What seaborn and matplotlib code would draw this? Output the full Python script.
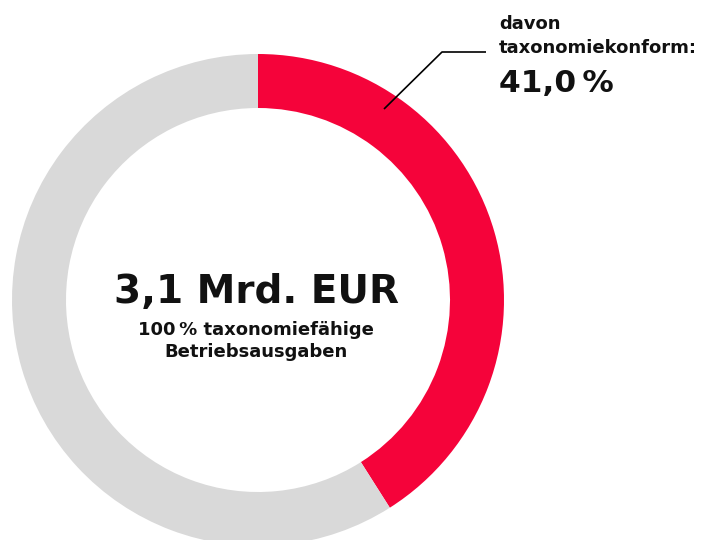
import matplotlib
matplotlib.use("Agg")
import matplotlib.pyplot as plt
import seaborn as sns

# Share of taxonomy-eligible operating expenses
segments = ["taxonomiekonform", "nicht taxonomiekonform"]
shares = [41.0, 59.0]
colors = ["#F5033A", "#D9D9D9"]

total_label = "3,1 Mrd. EUR"
sub_label = ["100\u2009% taxonomiefähige", "Betriebsausgaben"]
callout_head = ["davon", "taxonomiekonform:"]
callout_value = f"{shares[0]:.1f}".replace(".", ",") + "\u2009%"

sns.set_theme(style="white")
plt.rcParams["font.family"] = ["DejaVu Sans"]

W, H = 703, 540
fig = plt.figure(figsize=(W / 100, H / 100), dpi=100)
ax = fig.add_axes([0, 0, 1, 1])

cx, cy = 258, H - 300
r_out, ring = 246, 54
ax.pie(shares, colors=colors, radius=r_out, center=(cx, cy),
       startangle=90, counterclock=False,
       wedgeprops=dict(width=ring, linewidth=0), frame=True)
ax.set_xlim(0, W)
ax.set_ylim(0, H)
ax.set_aspect("equal")
ax.axis("off")

# Leader line to callout
ax.plot([384, 442, 486], [H - 109, H - 52, H - 52], color="black", lw=1.2,
        solid_capstyle="butt")

ax.text(499, H - 29, callout_head[0], fontsize=13, fontweight="bold",
        ha="left", va="baseline", color="#111111")
ax.text(499, H - 53, callout_head[1], fontsize=13, fontweight="bold",
        ha="left", va="baseline", color="#111111")
ax.text(499, H - 92, callout_value, fontsize=22.5, fontweight="bold",
        ha="left", va="baseline", color="#111111")

ax.text(256, H - 303, total_label, fontsize=28, fontweight="bold",
        ha="center", va="baseline", color="#111111")
ax.text(256, H - 335, sub_label[0], fontsize=13, fontweight="bold",
        ha="center", va="baseline", color="#111111")
ax.text(256, H - 357, sub_label[1], fontsize=13, fontweight="bold",
        ha="center", va="baseline", color="#111111")

fig.savefig("out.png", dpi=100, facecolor="white")
